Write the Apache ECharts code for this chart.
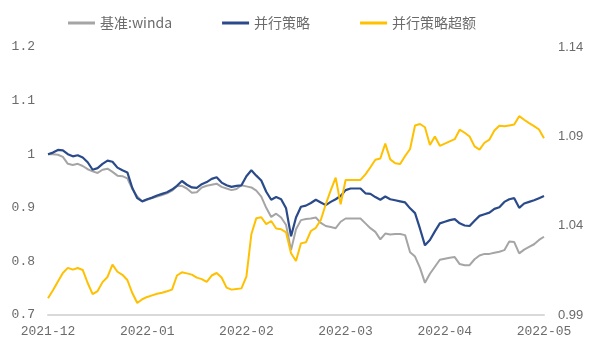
<!DOCTYPE html>
<html>
<head>
<meta charset="utf-8">
<script src="https://cdn.jsdelivr.net/npm/echarts@6/dist/echarts.min.js"></script>
<style>
html,body{margin:0;padding:0;background:#fff;}
#c{width:591px;height:348px;}
</style>
</head>
<body>
<div id="c"></div>
<script>
const monthTicks = ['2021-12','2022-01','2022-02','2022-03','2022-04','2022-05'];
const seriesNames = ['基准:winda','并行策略','并行策略超额'];
const leftTicks = [0.7, 1.2, 0.1];
const rightTicks = [0.99, 1.04, 1.09, 1.14];

const benchmark = [
1.000,1.000,0.999,0.995,0.982,0.980,0.982,0.978,0.972,0.968,
0.965,0.971,0.973,0.967,0.960,0.959,0.955,0.935,0.921,0.912,
0.915,0.918,0.921,0.924,0.927,0.932,0.940,0.941,0.936,0.928,
0.929,0.938,0.941,0.943,0.945,0.939,0.936,0.933,0.935,0.942,
0.940,0.938,0.932,0.921,0.900,0.883,0.889,0.882,0.868,0.821,
0.860,0.877,0.879,0.880,0.882,0.872,0.866,0.864,0.862,0.874,
0.880,0.880,0.880,0.880,0.871,0.862,0.855,0.841,0.852,0.850,
0.851,0.851,0.849,0.817,0.809,0.788,0.760,0.777,0.790,0.803,
0.805,0.807,0.808,0.795,0.793,0.793,0.804,0.811,0.814,0.814,
0.816,0.818,0.821,0.837,0.836,0.815,0.822,0.827,0.832,0.840,
0.846];

const strategy = [
1.000,1.003,1.008,1.007,1.000,0.996,0.998,0.994,0.985,0.971,
0.974,0.982,0.988,0.986,0.975,0.970,0.966,0.937,0.918,0.912,
0.916,0.919,0.923,0.926,0.929,0.934,0.941,0.950,0.943,0.938,
0.937,0.944,0.948,0.954,0.957,0.947,0.942,0.939,0.941,0.942,
0.959,0.970,0.960,0.951,0.930,0.915,0.920,0.916,0.899,0.847,
0.882,0.902,0.904,0.909,0.915,0.910,0.905,0.911,0.916,0.922,
0.933,0.936,0.936,0.936,0.927,0.926,0.920,0.915,0.921,0.916,
0.914,0.912,0.910,0.899,0.890,0.861,0.830,0.840,0.856,0.871,
0.874,0.877,0.879,0.871,0.867,0.866,0.876,0.885,0.888,0.891,
0.898,0.901,0.911,0.916,0.918,0.900,0.908,0.911,0.914,0.918,
0.922];

const excess = [
0.9994,1.0039,1.0088,1.0135,1.0164,1.0154,1.0163,1.0152,1.0079,1.0017,
1.0034,1.0084,1.0113,1.0182,1.0142,1.0125,1.0096,1.0023,0.9967,0.9988,
1.0001,1.0010,1.0019,1.0025,1.0033,1.0042,1.0121,1.0139,1.0133,1.0126,
1.0109,1.0101,1.0085,1.0121,1.0135,1.0110,1.0053,1.0042,1.0046,1.0049,
1.0115,1.0352,1.0442,1.0447,1.0409,1.0426,1.0384,1.0380,1.0362,1.0246,
1.0202,1.0301,1.0307,1.0370,1.0388,1.0432,1.0520,1.0598,1.0669,1.0519,
1.0656,1.0656,1.0656,1.0656,1.0687,1.0727,1.0769,1.0776,1.0859,1.0771,
1.0749,1.0745,1.0790,1.0829,1.0961,1.0969,1.0951,1.0851,1.0899,1.0847,
1.0859,1.0872,1.0884,1.0937,1.0920,1.0899,1.0844,1.0826,1.0864,1.0882,
1.0933,1.0959,1.0956,1.0961,1.0966,1.1013,1.0993,1.0974,1.0957,1.0938,
1.0889];

const step = 20;
const categories = benchmark.map((_, i) =>
  i % step === 0 ? monthTicks[i / step] : monthTicks[Math.floor(i / step)] + '#' + (i % step));

const colors = ['#A5A5A5', '#2A4A8A', '#FFC000'];
const labelColor = '#6B6B6B';

const chart = echarts.init(document.getElementById('c'), null, {renderer: 'canvas'});
chart.setOption({
  animation: false,
  backgroundColor: '#ffffff',
  color: colors,
  legend: {
    left: 63, top: 11,
    icon: 'rect', itemWidth: 27, itemHeight: 3, itemGap: 50,
    textStyle: {fontFamily: 'Noto Sans CJK SC', fontSize: 14, color: labelColor},
    data: seriesNames
  },
  grid: {left: 48, right: 47, top: 47, bottom: 33, containLabel: false, outerBoundsMode: 'none'},
  xAxis: {
    type: 'category', data: categories, boundaryGap: false,
    axisLine: {show: true, lineStyle: {color: '#D9D9D9', width: 2}},
    axisTick: {show: false},
    splitLine: {show: false},
    axisLabel: {
      interval: (i) => i % step === 0,
      margin: 10,
      color: labelColor, fontFamily: 'Liberation Mono', fontSize: 13,
      formatter: (v) => v
    }
  },
  yAxis: [{
    type: 'value', min: leftTicks[0], max: leftTicks[1], interval: leftTicks[2],
    axisLine: {show: false}, axisTick: {show: false}, splitLine: {show: false},
    axisLabel: {margin: 13, color: labelColor, fontFamily: 'Liberation Mono', fontSize: 13,
      formatter: (v) => String(+v.toFixed(1))}
  }, {
    type: 'value', min: rightTicks[0], max: rightTicks[rightTicks.length - 1],
    axisLine: {show: false}, axisTick: {show: false}, splitLine: {show: false},
    axisLabel: {margin: 14, color: labelColor, fontFamily: 'Liberation Sans', fontSize: 13,
      customValues: rightTicks,
      formatter: (v) => v.toFixed(2)}
  }],
  series: [
    {name: seriesNames[0], type: 'line', data: benchmark, yAxisIndex: 0, symbol: 'none', showSymbol: false,
     lineStyle: {width: 2, color: colors[0]}},
    {name: seriesNames[1], type: 'line', data: strategy, yAxisIndex: 0, symbol: 'none', showSymbol: false,
     lineStyle: {width: 2.2, color: colors[1]}},
    {name: seriesNames[2], type: 'line', data: excess, yAxisIndex: 1, symbol: 'none', showSymbol: false,
     lineStyle: {width: 2, color: colors[2]}}
  ]
});
</script>
</body>
</html>
